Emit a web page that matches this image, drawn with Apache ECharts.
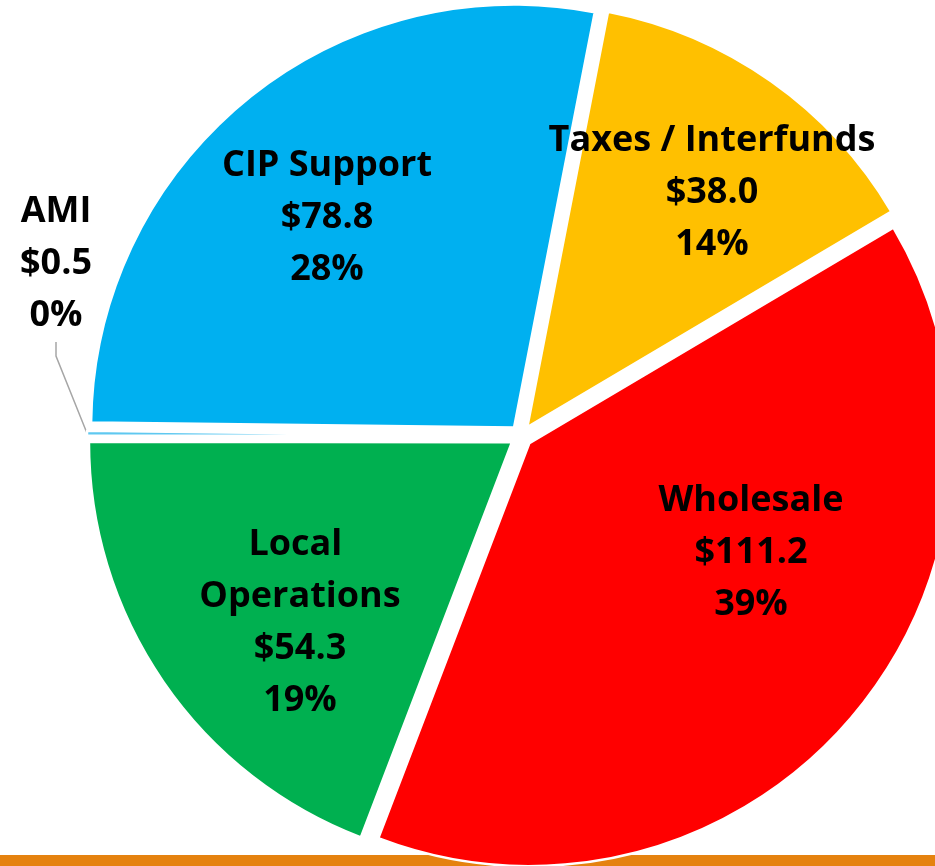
<!DOCTYPE html>
<html>
<head>
<meta charset="utf-8">
<script src="https://cdn.jsdelivr.net/npm/echarts@6/dist/echarts.min.js"></script>
<style>
  html, body { margin: 0; padding: 0; background: #fff; }
  #chart { width: 935px; height: 866px; }
</style>
</head>
<body>
<div id="chart"></div>
<script>
// budget split ($M), clockwise from the top
const categories = ['Taxes / Interfunds', 'Wholesale', 'Local Operations', 'AMI', 'CIP Support'];
const amounts = [38.0, 111.2, 54.3, 0.5, 78.8];
const sliceColors = ['#FFC000', '#FF0000', '#00B050', '#5FC8F0', '#00B0F0'];

// where each label block sits (centre of the text block)
const labelSpots = [[712, 193], [751, 553], [300, 623], [56, 264], [327, 218]];

const CX = 521, CY = 436, R = 423;
const START_DEG = 11;   // first slice starts 11deg clockwise from 12 o'clock
const EXPLODE = 11;     // px each slice is pulled out

const chart = echarts.init(document.getElementById('chart'));

const total = amounts.reduce(function (a, b) { return a + b; }, 0);

function labelText(p) {
    return p.name + '\n$' + p.value.toFixed(1) + '\n' + p.percent + '%';
}

// one pie per slice so every slice can be pulled out along its own bisector
let acc = 0;
const series = categories.map(function (name, i) {
    const mid = (START_DEG + (acc + amounts[i] / 2) / total * 360) * Math.PI / 180;
    acc += amounts[i];
    const data = categories.map(function (n, j) {
        if (j !== i) {
            return {
                name: n,
                value: amounts[j],
                itemStyle: { color: 'rgba(0,0,0,0)', borderColor: 'rgba(0,0,0,0)', borderWidth: 0 },
                label: { show: false },
                labelLine: { show: false }
            };
        }
        const item = { name: n, value: amounts[j], itemStyle: { color: sliceColors[j] } };
        if (n === 'AMI') {
            item.label = { position: 'outside' };
            item.labelLine = { show: true };
        }
        if (n === 'Local Operations') {
            item.label = { width: 210, overflow: 'break' };
        }
        return item;
    });
    return {
        type: 'pie',
        zlevel: 1,
        z: 5,
        center: [CX + EXPLODE * Math.sin(mid), CY - EXPLODE * Math.cos(mid)],
        radius: R,
        startAngle: 90 - START_DEG,
        clockwise: true,
        percentPrecision: 0,
        avoidLabelOverlap: false,
        emphasis: { disabled: true },
        itemStyle: { borderColor: '#fff', borderWidth: 2.5 },
        label: {
            position: 'inside',
            color: '#000',
            fontFamily: 'Open Sans',
            fontWeight: 'bold',
            fontSize: 36,
            lineHeight: 52,
            align: 'center',
            formatter: labelText
        },
        labelLine: {
            show: false,
            length: 20,
            length2: 14,
            lineStyle: { color: '#A6A6A6', width: 1.5 }
        },
        labelLayout: function (params) {
            const spot = labelSpots[params.dataIndex];
            return { x: spot[0], y: spot[1], align: 'center', verticalAlign: 'middle' };
        },
        data: data
    };
});

chart.setOption({
    backgroundColor: '#fff',
    animation: false,
    graphic: {
        elements: [{
            type: 'rect',
            zlevel: 0,
            z: 0,
            shape: { x: 0, y: 855, width: 935, height: 11 },
            style: { fill: '#E5820F' }
        }]
    },
    series: series
});
</script>
</body>
</html>
